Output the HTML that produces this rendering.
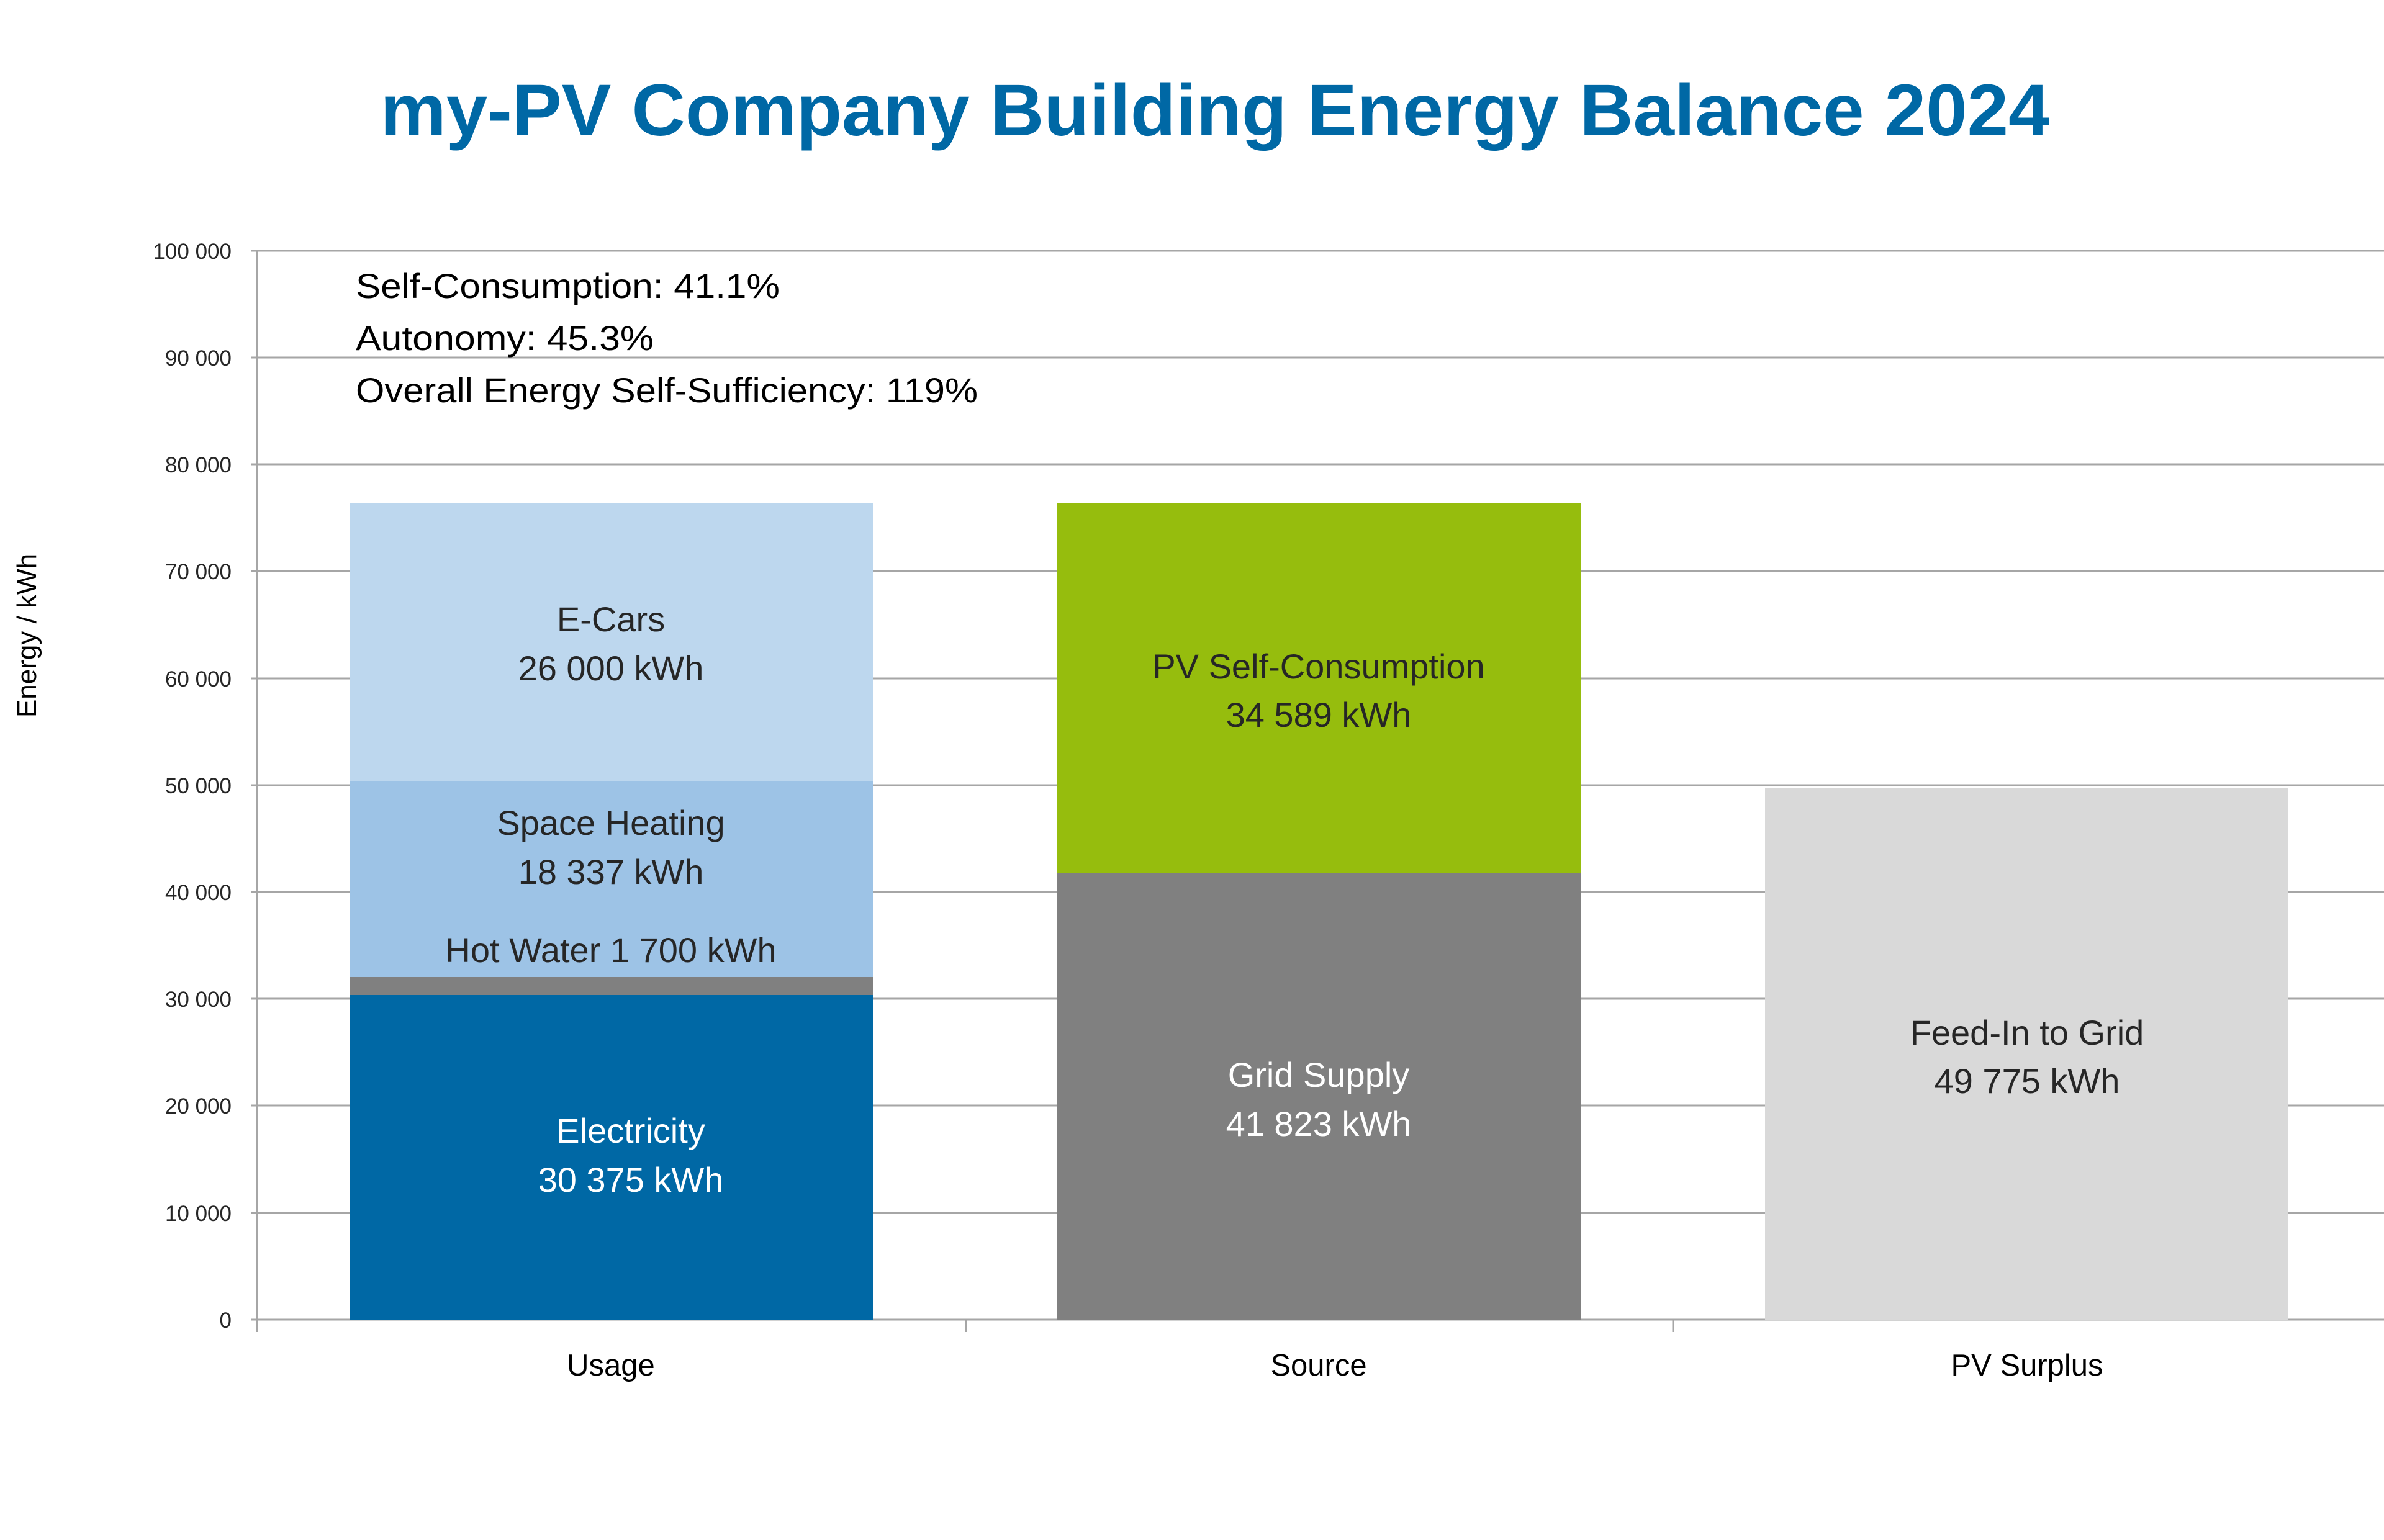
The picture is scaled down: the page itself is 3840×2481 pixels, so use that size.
<!DOCTYPE html>
<html><head><meta charset="utf-8"><style>html,body{margin:0;padding:0;background:#fff}svg{display:block}</style></head>
<body>
<svg width="3840" height="2481" viewBox="0 0 3840 2481" xmlns="http://www.w3.org/2000/svg" font-family="Liberation Sans, sans-serif">
<rect width="3840" height="2481" fill="#fff"/>
<text x="1957" y="218" text-anchor="middle" font-size="118" font-weight="bold" fill="#0068a5" textLength="2689" lengthAdjust="spacingAndGlyphs">my-PV Company Building Energy Balance 2024</text>
<g stroke="#a6a6a6" stroke-width="3">
<line x1="405" y1="404" x2="3840" y2="404"/>
<line x1="405" y1="576" x2="3840" y2="576"/>
<line x1="405" y1="748" x2="3840" y2="748"/>
<line x1="405" y1="920" x2="3840" y2="920"/>
<line x1="405" y1="1093" x2="3840" y2="1093"/>
<line x1="405" y1="1265" x2="3840" y2="1265"/>
<line x1="405" y1="1437" x2="3840" y2="1437"/>
<line x1="405" y1="1609" x2="3840" y2="1609"/>
<line x1="405" y1="1781" x2="3840" y2="1781"/>
<line x1="405" y1="1954" x2="3840" y2="1954"/>
<line x1="405" y1="2126" x2="3840" y2="2126"/>
<line x1="414" y1="404" x2="414" y2="2146"/>
<line x1="1556" y1="2126" x2="1556" y2="2146"/>
<line x1="2695" y1="2126" x2="2695" y2="2146"/>
</g>
<g font-size="35" fill="#262626" text-anchor="end">
<text x="373" y="417">100 000</text><text x="373" y="589">90 000</text><text x="373" y="761">80 000</text>
<text x="373" y="933">70 000</text><text x="373" y="1106">60 000</text><text x="373" y="1278">50 000</text>
<text x="373" y="1450">40 000</text><text x="373" y="1622">30 000</text><text x="373" y="1794">20 000</text>
<text x="373" y="1967">10 000</text><text x="373" y="2139">0</text>
</g>
<text transform="translate(58,1024) rotate(-90)" text-anchor="middle" font-size="44" fill="#000">Energy / kWh</text>
<g font-size="56" fill="#000">
<text x="573" y="480" textLength="683" lengthAdjust="spacingAndGlyphs">Self-Consumption: 41.1%</text>
<text x="573" y="564" textLength="480" lengthAdjust="spacingAndGlyphs">Autonomy: 45.3%</text>
<text x="573" y="648" textLength="1002" lengthAdjust="spacingAndGlyphs">Overall Energy Self-Sufficiency: 119%</text>
</g>
<rect x="563" y="1603" width="843" height="523" fill="#0068a5"/>
<rect x="563" y="1574" width="843" height="29" fill="#808080"/>
<rect x="563" y="1258" width="843" height="316" fill="#9dc3e6"/>
<rect x="563" y="810" width="843" height="448" fill="#bdd7ee"/>
<rect x="1702" y="1406" width="845" height="720" fill="#808080"/>
<rect x="1702" y="810" width="845" height="596" fill="#96bd0d"/>
<rect x="2843" y="1269" width="843" height="857" fill="#d9d9d9"/>
<g font-size="56" text-anchor="middle" fill="#262626">
<text x="984" y="1017">E-Cars</text><text x="984" y="1096">26 000 kWh</text>
<text x="984" y="1345">Space Heating</text><text x="984" y="1424">18 337 kWh</text>
<text x="984" y="1550">Hot Water 1 700 kWh</text>
<text x="1016" y="1841" fill="#fff">Electricity</text><text x="1016" y="1920" fill="#fff">30 375 kWh</text>
<text x="2124" y="1093">PV Self-Consumption</text><text x="2124" y="1171">34 589 kWh</text>
<text x="2124" y="1751" fill="#fff">Grid Supply</text><text x="2124" y="1830" fill="#fff">41 823 kWh</text>
<text x="3265" y="1683">Feed-In to Grid</text><text x="3265" y="1761">49 775 kWh</text>
</g>
<g font-size="49" text-anchor="middle" fill="#000">
<text x="984" y="2216">Usage</text><text x="2124" y="2216">Source</text><text x="3265" y="2216">PV Surplus</text>
</g>
</svg>
</body></html>
